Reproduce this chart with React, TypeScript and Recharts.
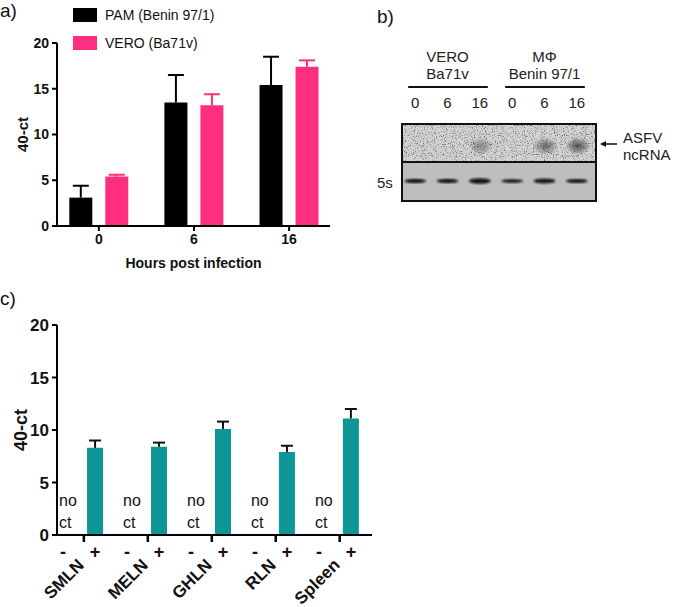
import { BarChart, Bar, XAxis, YAxis } from "recharts";

const FONT = '"Liberation Sans", Arial, sans-serif';

// panel a: 40-ct by hours post infection
const HOURS = ["0", "6", "16"];
const PAM = [3.1, 13.5, 15.4];
const PAM_ERR = [1.3, 3.0, 3.1];
const VERO = [5.4, 13.2, 17.4];
const VERO_ERR = [0.2, 1.2, 0.7];
const Y_TICKS = [0, 5, 10, 15, 20];

const SERIES = [
  { key: "pam", name: "PAM (Benin 97/1)", color: "#000000" },
  { key: "vero", name: "VERO (Ba71v)", color: "#ff2e7e" },
];

// panel b: northern blot lanes
const GROUPS = [
  { top: "VERO", bottom: "Ba71v" },
  { top: "M\u03A6", bottom: "Benin 97/1" },
];
const LANE_TIMES = ["0", "6", "16", "0", "6", "16"];
const NCRNA_SIGNAL = [0, 0, 0.55, 0, 0.75, 0.95];
const RNA5S_SIGNAL = [1, 1, 1.3, 0.85, 1.15, 0.9];

// panel c: tissues, uninfected (-) vs infected (+)
const TISSUES = ["SMLN", "MELN", "GHLN", "RLN", "Spleen"];
const INFECTED = [8.3, 8.4, 10.1, 7.9, 11.1];
const INFECTED_ERR = [0.7, 0.4, 0.7, 0.6, 0.9];

const A_DOMAIN = [-0.44, 2.43];
const C_DOMAIN = [-0.19, 9.66];

const aData = HOURS.map((h, i) => ({
  idx: i,
  hour: h,
  pam: PAM[i],
  pamErr: PAM_ERR[i],
  vero: VERO[i],
  veroErr: VERO_ERR[i],
}));

const cData = TISSUES.flatMap((t, g) => [
  { idx: 2 * g, tissue: t, val: 0, err: 0, note: "no ct" },
  { idx: 2 * g + 1, tissue: t, val: INFECTED[g], err: INFECTED_ERR[g], note: "" },
]);
// group tick marks sit between the - and + columns
const C_MARKS = TISSUES.map((_, g) => 2 * g + 0.65);
const C_TICKS = [...cData.map((d) => d.idx), ...C_MARKS].sort((a, b) => a - b);

const axisStroke = { stroke: "#000", strokeWidth: 2 };

// draws the error whisker over the stacked error segment
function ErrorTee(props: any) {
  const { x, y, width, height, color, cap } = props;
  if (!height || height <= 0) return null;
  const cx = x + width / 2;
  return (
    <g>
      <line x1={cx} y1={y + height} x2={cx} y2={y} stroke={color} strokeWidth={2} />
      <line x1={cx - cap / 2} y1={y} x2={cx + cap / 2} y2={y} stroke={color} strokeWidth={2} />
    </g>
  );
}

function GroupTick(props: any) {
  const { x, y, payload } = props;
  const v = Math.round((payload.value as number) * 100) / 100;
  if (!Number.isInteger(v)) {
    return (
      <g>
        <line x1={x} x2={x} y1={y} y2={y + 7} stroke="#000" strokeWidth={2.5} />
      </g>
    );
  }
  const plus = v % 2 === 1;
  const note = cData[v]?.note;
  const [w1, w2] = note ? note.split(" ") : ["", ""];
  return (
    <g fontFamily={FONT} fill="#111">
      {note && (
        <g fontSize={16} fontWeight="normal">
          <text x={x - 4} y={y - 29}>{w1}</text>
          <text x={x - 4} y={y - 7}>{w2}</text>
        </g>
      )}
      <text x={x} y={y + 23} textAnchor="middle" fontSize={18} fontWeight="bold">
        {plus ? "+" : "-"}
      </text>
      {plus && (
        <text
          transform={`translate(${x - 10},${y + 31}) rotate(-45)`}
          textAnchor="end"
          fontSize={17}
          fontWeight="bold"
        >
          {TISSUES[(v - 1) / 2]}
        </text>
      )}
    </g>
  );
}

function Blot() {
  const left = 402, right = 596, top = 124, mid = 162, bottom = 201;
  const pitch = (right - left) / LANE_TIMES.length;
  const laneX = (i: number) => left + pitch * (i + 0.5) - 3;
  return (
    <svg
      width={334}
      height={300}
      viewBox="340 0 334 300"
      style={{ position: "absolute", left: 340, top: 0 }}
      fontFamily={FONT}
    >
      <defs>
        <filter id="grain" x="0" y="0" width="100%" height="100%">
          <feTurbulence type="fractalNoise" baseFrequency="0.9" numOctaves="2" seed="5" />
          <feColorMatrix
            type="matrix"
            values="0 0 0 0 0.1  0 0 0 0 0.1  0 0 0 0 0.1  -3 0 0 0 1.45"
          />
        </filter>
        <radialGradient id="spot">
          <stop offset="0" stopColor="#222" stopOpacity="0.75" />
          <stop offset="0.6" stopColor="#333" stopOpacity="0.4" />
          <stop offset="1" stopColor="#555" stopOpacity="0" />
        </radialGradient>
        <filter id="soft">
          <feGaussianBlur stdDeviation="0.8" />
        </filter>
      </defs>
      <text x={377} y={23} fontSize={19} fill="#111">b)</text>

      {GROUPS.map((g, k) => {
        const c = laneX(3 * k + 1);
        return (
          <g key={g.top} fill="#222" fontSize={15} textAnchor="middle">
            <text x={c} y={62}>{g.top}</text>
            <text x={c} y={79}>{g.bottom}</text>
            <line x1={laneX(3 * k) - 7} x2={laneX(3 * k + 2) + 8} y1={87} y2={87} stroke="#111" strokeWidth={2} />
          </g>
        );
      })}
      {LANE_TIMES.map((t, i) => (
        <text key={i} x={laneX(i)} y={108} fontSize={15} fill="#222" textAnchor="middle">
          {t}
        </text>
      ))}

      <rect x={left} y={top} width={right - left} height={mid - top} fill="#d4d4d4" />
      <rect x={left} y={top} width={right - left} height={mid - top} filter="url(#grain)" />
      {NCRNA_SIGNAL.map((s, i) =>
        s > 0 ? (
          <ellipse key={i} cx={laneX(i) + 1} cy={146} rx={13} ry={9} fill="url(#spot)" opacity={s} />
        ) : null
      )}
      <rect x={left} y={mid} width={right - left} height={bottom - mid} fill="#bebebe" />
      {RNA5S_SIGNAL.map((s, i) => (
        <ellipse key={i} cx={laneX(i)} cy={181} rx={11} ry={2.2 * s} fill="#151515" filter="url(#soft)" />
      ))}
      <rect x={left} y={top} width={right - left} height={bottom - top} fill="none" stroke="#111" strokeWidth={2} />
      <line x1={left} x2={right} y1={mid} y2={mid} stroke="#111" strokeWidth={2} />

      <text x={377} y={188} fontSize={15} fill="#222">5s</text>
      <line x1={617} x2={603} y1={144} y2={144} stroke="#111" strokeWidth={1.5} />
      <path d="M600,144 L606,141 L606,147 Z" fill="#111" />
      <text x={623} y={143} fontSize={15} fill="#222">ASFV</text>
      <text x={623} y={160} fontSize={15} fill="#222">ncRNA</text>
    </svg>
  );
}

export default function App() {
  const tickA = { fontSize: 14, fontWeight: "bold", fill: "#111", fontFamily: FONT };
  const tickC = { fontSize: 17, fontWeight: "bold", fill: "#111", fontFamily: FONT };
  return (
    <div
      style={{
        position: "absolute",
        left: 0,
        top: 0,
        width: 674,
        height: 607,
        background: "#fff",
        fontFamily: FONT,
        color: "#111",
        overflow: "hidden",
      }}
    >
      <div style={{ position: "absolute", left: 0, top: 0, fontSize: 19 }}>a)</div>
      <div style={{ position: "absolute", left: 0, top: 0 }}>
        <BarChart width={340} height={271} data={aData} margin={{ top: 43, right: 10, left: 0, bottom: 0 }} barGap={13}>
          <XAxis
            type="number"
            dataKey="idx"
            domain={A_DOMAIN}
            ticks={[0, 1, 2]}
            tickFormatter={(v) => HOURS[v]}
            tick={tickA}
            tickSize={5}
            tickMargin={3}
            axisLine={axisStroke}
            tickLine={axisStroke}
            height={45}
            label={{ value: "Hours post infection", position: "insideBottom", offset: 3, style: { fontSize: 14, fontWeight: "bold", fill: "#111", fontFamily: FONT } }}
          />
          <YAxis
            domain={[0, 20]}
            ticks={Y_TICKS}
            tick={tickA}
            tickSize={5}
            tickMargin={3}
            axisLine={axisStroke}
            tickLine={axisStroke}
            width={57}
            label={{ value: "40-ct", angle: -90, position: "insideLeft", offset: 23, style: { textAnchor: "middle", fontSize: 15, fontWeight: "bold", fill: "#111", fontFamily: FONT } }}
          />
          {SERIES.map((s) => [
            <Bar key={s.key} dataKey={s.key} stackId={s.key} fill={s.color} barSize={23} isAnimationActive={false} />,
            <Bar
              key={s.key + "Err"}
              dataKey={s.key + "Err"}
              stackId={s.key}
              barSize={23}
              isAnimationActive={false}
              shape={(p: any) => <ErrorTee {...p} color={s.color} cap={16} />}
            />,
          ])}
        </BarChart>
      </div>
      <div style={{ position: "absolute", left: 73, top: 8 }}>
        {SERIES.map((s) => (
          <div key={s.key} style={{ display: "flex", alignItems: "center", height: 14, marginBottom: 14, fontSize: 14 }}>
            <span style={{ display: "inline-block", width: 24, height: 14, background: s.color, marginRight: 8 }} />
            <span>{s.name}</span>
          </div>
        ))}
      </div>

      <Blot />

      <div style={{ position: "absolute", left: 0, top: 288, fontSize: 19 }}>c)</div>
      <div style={{ position: "absolute", left: 0, top: 300 }}>
        <BarChart width={380} height={307} data={cData} margin={{ top: 25, right: 8, left: 0, bottom: 0 }}>
          <XAxis
            type="number"
            dataKey="idx"
            domain={C_DOMAIN}
            ticks={C_TICKS}
            interval={0}
            tick={<GroupTick />}
            tickLine={false}
            axisLine={axisStroke}
            tickSize={0}
            tickMargin={0}
            height={72}
          />
          <YAxis
            domain={[0, 20]}
            ticks={Y_TICKS}
            tick={tickC}
            tickSize={5}
            tickMargin={3}
            axisLine={axisStroke}
            tickLine={axisStroke}
            width={57}
            label={{ value: "40-ct", angle: -90, position: "insideLeft", offset: 21, style: { textAnchor: "middle", fontSize: 18, fontWeight: "bold", fill: "#111", fontFamily: FONT } }}
          />
          <Bar dataKey="val" stackId="c" fill="#0e9696" barSize={16} isAnimationActive={false} />
          <Bar
            dataKey="err"
            stackId="c"
            barSize={16}
            isAnimationActive={false}
            shape={(p: any) => <ErrorTee {...p} color="#111" cap={12} />}
          />
        </BarChart>
      </div>
    </div>
  );
}
